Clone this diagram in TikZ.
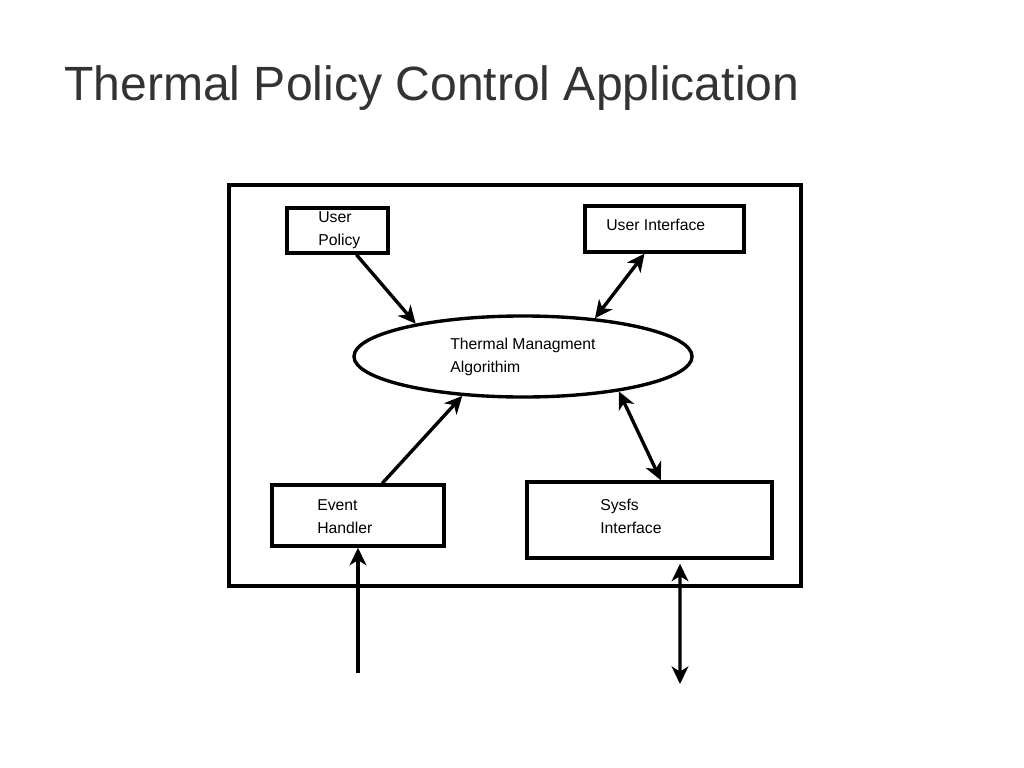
\documentclass[tikz,border=0pt]{standalone}
\usepackage{fontspec}
\setmainfont{Liberation Sans}
\usetikzlibrary{shapes.geometric, arrows.meta, calc}

\begin{document}
\begin{tikzpicture}[
    x=0.025cm, y=-0.025cm,
    module/.style={
        rectangle, draw=black, line width=2.4pt, inner sep=0pt, fill=white
    },
    frame/.style={rectangle, draw=black, line width=2.4pt, inner sep=0pt},
    txt/.style={
        anchor=base west, inner sep=0pt, align=left,
        font=\fontsize{11.2}{15.8}\selectfont
    },
    arrow/.style={-{Stealth[length=4.4mm, width=4.2mm, inset=1.3mm]}, line width=2.4pt},
    twoway/.style={{Stealth[length=4.4mm, width=4.2mm, inset=1.3mm]}-{Stealth[length=4.4mm, width=4.2mm, inset=1.3mm]}, line width=2.4pt}
]
\useasboundingbox (0,0) rectangle (1024,768);

% Title
\node[anchor=base west, inner sep=0pt, text=black!80,
      font=\fontsize{34.2}{40}\selectfont] (title) at (64,101)
      {Thermal Policy Control Application};

% Outer frame
\node[frame, minimum width=14.3cm, minimum height=10.025cm] (frame) at (515,385.5) {};

% Top row
\node[module, minimum width=2.525cm, minimum height=1.125cm] (policy) at (337.5,230.5) {};
\node[txt] (policytxt) at (318,245) {User\\Policy};
\node[module, minimum width=3.975cm, minimum height=1.15cm] (ui) at (664.5,229) {};
\node[txt] (uitxt) at (606,230) {User Interface};

% Algorithm
\node[ellipse, draw=black, line width=2.4pt, inner sep=0pt,
      minimum width=8.45cm, minimum height=2.025cm] (alg) at (523,356.5) {};
\node[txt] (algtxt) at (450,372) {Thermal Managment\\Algorithim};

% Bottom row
\node[module, minimum width=4.3cm, minimum height=1.525cm] (eh) at (358,515.5) {};
\node[txt] (ehtxt) at (317,533) {Event\\Handler};
\node[module, minimum width=6.125cm, minimum height=1.9cm] (sysfs) at (649.5,520) {};
\node[txt] (sysfstxt) at (600,533) {Sysfs\\Interface};

% Outside ends
\coordinate (evin) at (358,673);
\coordinate (sysio) at (680,684);

% Arrows
\draw[arrow] (policy.-52) -- (alg.163);
\draw[twoway] (ui.231) -- (alg.28);
\draw[arrow] (eh.53) -- (alg.213);
\draw[twoway] (alg.-20) -- (sysfs.74);
\draw[arrow] (evin) -- (eh.south);
\draw[twoway, shorten <=1mm] ($(sysfs.south)+(30.5,0)$) -- (sysio);

\end{tikzpicture}
\end{document}
